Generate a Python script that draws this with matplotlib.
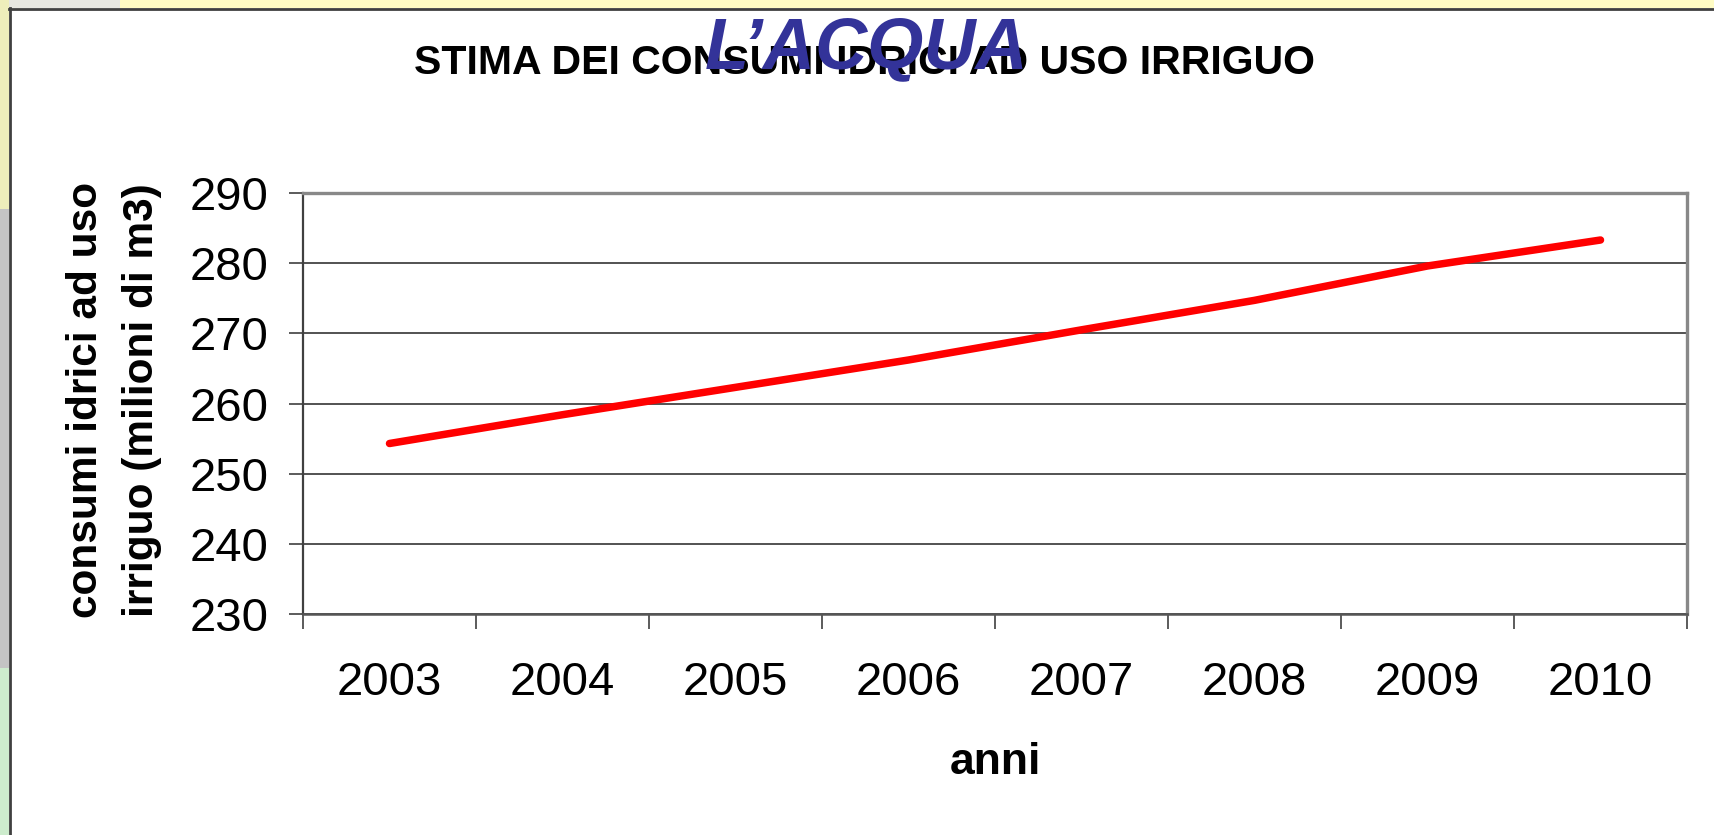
import matplotlib
matplotlib.use("Agg")
import matplotlib.pyplot as plt
from matplotlib.patches import Rectangle
from matplotlib.lines import Line2D
import numpy as np

# ---- data ----
years = ["2003", "2004", "2005", "2006", "2007", "2008", "2009", "2010"]
consumi = [254.3, 258.4, 262.3, 266.2, 270.5, 274.7, 279.6, 283.3]
y_ticks = [230, 240, 250, 260, 270, 280, 290]

title = "STIMA DEI CONSUMI IDRICI AD USO IRRIGUO"
overlay = "L\u2019ACQUA"
ylabel = "consumi idrici ad uso\nirriguo (milioni di m3)"
xlabel = "anni"

plt.rcParams["font.family"] = ["Liberation Sans", "DejaVu Sans"]

W, H = 1714, 835
fig = plt.figure(figsize=(W / 100, H / 100), dpi=100)
fig.patch.set_facecolor("white")

# slide background strips outside the chart frame
fig.add_artist(Rectangle((120 / W, 1 - 8 / H), 1, 8 / H, transform=fig.transFigure,
                         facecolor="#fffcc4", edgecolor="none", zorder=0))
fig.add_artist(Rectangle((0, 1 - 8 / H), 120 / W, 8 / H, transform=fig.transFigure,
                         facecolor="#e6e6e0", edgecolor="none", zorder=0))
fig.add_artist(Rectangle((0, 0), 9 / W, 1, transform=fig.transFigure,
                         facecolor="#c4c4c4", edgecolor="none", zorder=0))
fig.add_artist(Rectangle((0, 0.75), 9 / W, 0.25, transform=fig.transFigure,
                         facecolor="#eeeebb", edgecolor="none", zorder=0))
fig.add_artist(Rectangle((0, 0), 9 / W, 0.2, transform=fig.transFigure,
                         facecolor="#cdeccd", edgecolor="none", zorder=0))
# chart frame border
fig.add_artist(Line2D([9 / W, 1], [1 - 8.5 / H, 1 - 8.5 / H], transform=fig.transFigure,
                      color="#404040", lw=2.0, zorder=1))
fig.add_artist(Line2D([9.5 / W, 9.5 / W], [0, 1 - 8 / H], transform=fig.transFigure,
                      color="#404040", lw=2.0, zorder=1))

left, right = 303 / W, 1687 / W
bottom, top = 1 - 614 / H, 1 - 193 / H
ax = fig.add_axes([left, bottom, right - left, top - bottom])
ax.set_facecolor("white")

x = np.arange(len(years))
ax.plot(x, consumi, color="#ff0000", lw=5.4, solid_capstyle="round",
        solid_joinstyle="round", zorder=3)

ax.set_xlim(-0.5, len(years) - 0.5)
ax.set_ylim(y_ticks[0], y_ticks[-1])
ax.set_yticks(y_ticks)
ax.set_yticklabels([str(v) for v in y_ticks], fontsize=34)
ax.set_xticks(x)
ax.set_xticklabels(years, fontsize=34)
ax.set_xticks(np.arange(-0.5, len(years)), minor=True)
ax.tick_params(axis="x", which="major", length=0, pad=34)
ax.tick_params(axis="x", which="minor", length=10.5, width=1.2, color="#404040",
               direction="out")
ax.tick_params(axis="y", which="major", length=10, width=1.2, color="#404040",
               pad=15, direction="out")

ax.yaxis.grid(True, color="#353535", lw=1.2)
ax.set_axisbelow(True)

ax.spines["left"].set_color("#404040")
ax.spines["left"].set_linewidth(1.6)
ax.spines["bottom"].set_color("#555555")
ax.spines["bottom"].set_linewidth(1.8)
for s in ("top", "right"):
    ax.spines[s].set_color("#888888")
    ax.spines[s].set_linewidth(2.4)

ax.set_ylabel(ylabel, fontsize=30.5, fontweight="bold", linespacing=1.5,
              va="center", ha="center")
ax.yaxis.set_label_coords((114 - 303) / 1384, (614 - 400) / 421)
ax.set_xlabel(xlabel, fontsize=32, fontweight="bold", va="center")
ax.xaxis.set_label_coords(0.5, (614 - 762) / 421)

fig.text(864 / W, 1 - 63 / H, title, fontsize=29.5, fontweight="bold",
         ha="center", va="center", color="black", zorder=5)
fig.text(867 / W, 1 - 68 / H, overlay, fontsize=52, fontweight="bold",
         fontstyle="italic", ha="center", va="baseline", color="#333399", zorder=6)

fig.savefig("out.png", dpi=100, facecolor=fig.get_facecolor())
